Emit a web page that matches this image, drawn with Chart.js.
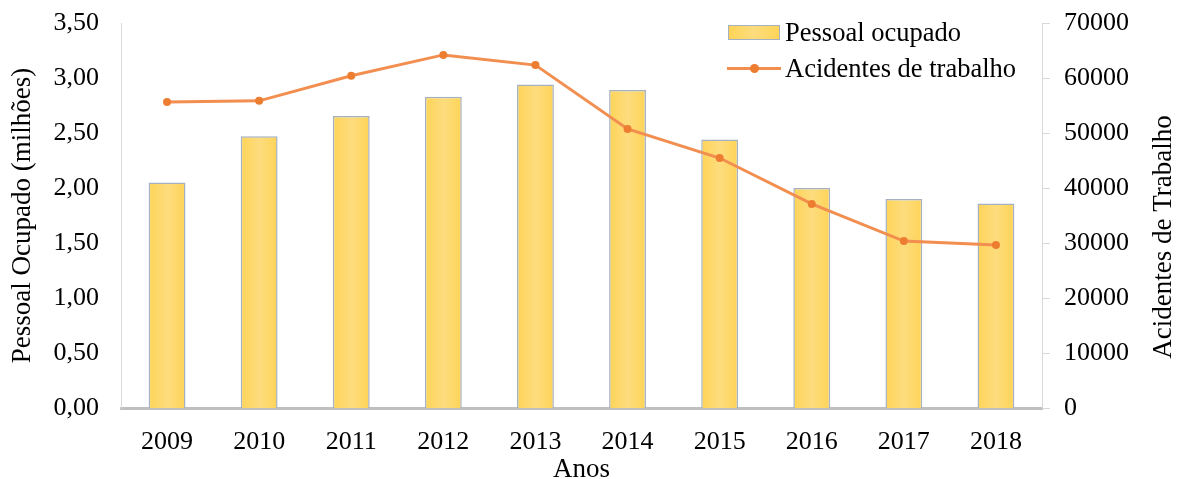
<!DOCTYPE html>
<html>
<head>
<meta charset="utf-8">
<script src="https://cdn.jsdelivr.net/npm/chart.js@4.4.1/dist/chart.umd.min.js"></script>
<style>
  html, body { margin: 0; padding: 0; background: #fff; }
  #wrap { position: relative; width: 1179px; height: 479px; }
  canvas { display: block; }
  .lg { position: absolute; font-family: "Liberation Serif", "Times New Roman", serif; font-size: 26.5px; color: #000; line-height: 30px; white-space: nowrap; }
</style>
</head>
<body>
<div id="wrap">
  <canvas id="c" width="1179" height="479"></canvas>
  <div style="position:absolute;left:728px;top:25px;width:50px;height:13px;background:linear-gradient(90deg,#FED457,#FDDC7E 50%,#FED457);border:1px solid #A5B0C0;"></div>
  <div class="lg" style="left:785px;top:17px;">Pessoal ocupado</div>
  <div style="position:absolute;left:727px;top:67px;width:54px;height:3px;background:#F28E4F;"></div>
  <div style="position:absolute;left:750px;top:64px;width:9px;height:9px;border-radius:50%;background:#ED7D31;"></div>
  <div class="lg" style="left:785px;top:53px;">Acidentes de trabalho</div>
</div>
<script>
const categories = ["2009","2010","2011","2012","2013","2014","2015","2016","2017","2018"];
const pessoalOcupado = [2.05, 2.47, 2.655, 2.83, 2.94, 2.89, 2.44, 2.00, 1.90, 1.86];
const acidentesTrabalho = [55650, 55850, 60400, 64200, 62350, 50750, 45450, 37100, 30350, 29650];
const leftTicksMax = 3.5;
const rightTicksMax = 70000;

const FONT = "'Liberation Serif', 'Times New Roman', serif";
const BAR_PCT = 0.4;

const rightTitlePlugin = {
  id: 'rightTitle',
  afterDraw(chart) {
    const ctx = chart.ctx;
    ctx.save();
    ctx.font = "27px " + FONT;
    ctx.fillStyle = '#000';
    ctx.textAlign = 'center';
    ctx.textBaseline = 'middle';
    ctx.translate(1164, 237);
    ctx.rotate(-Math.PI / 2);
    ctx.fillText('Acidentes de Trabalho', 0, 0);
    ctx.restore();
  }
};

function barFill(c) {
  const chart = c.chart;
  const xs = chart.scales && chart.scales.x;
  if (!xs || !chart.chartArea || c.dataIndex === undefined) return '#FDD870';
  const cx = xs.getPixelForValue(c.dataIndex);
  const w = (xs.width / categories.length) * BAR_PCT;
  const g = chart.ctx.createLinearGradient(cx - w / 2, 0, cx + w / 2, 0);
  g.addColorStop(0, '#FED457');
  g.addColorStop(0.5, '#FDDC7E');
  g.addColorStop(1, '#FED457');
  return g;
}

new Chart(document.getElementById('c'), {
  data: {
    labels: categories,
    datasets: [
      {
        type: 'line',
        label: 'Acidentes de trabalho',
        data: acidentesTrabalho,
        yAxisID: 'y1',
        borderColor: '#F28E4F',
        borderWidth: 3,
        pointRadius: 4,
        pointBackgroundColor: '#ED7D31',
        pointBorderColor: '#ED7D31',
        pointBorderWidth: 0,
        tension: 0,
        order: 0
      },
      {
        type: 'bar',
        label: 'Pessoal ocupado',
        data: pessoalOcupado,
        yAxisID: 'y',
        backgroundColor: barFill,
        borderColor: '#A5B0C0',
        borderWidth: 1.5,
        barPercentage: BAR_PCT,
        categoryPercentage: 1.0,
        order: 1
      }
    ]
  },
  options: {
    responsive: false,
    animation: false,
    layout: { padding: { top: 23, left: 0, right: 0, bottom: 0 } },
    plugins: {
      legend: { display: false },
      tooltip: { enabled: false }
    },
    scales: {
      x: {
        grid: { display: false, drawTicks: false },
        border: { display: true, color: '#BFBFBF', width: 3 },
        ticks: { color: '#000', font: { family: FONT, size: 26 }, padding: 19 },
        title: { display: true, text: 'Anos', color: '#000', font: { family: FONT, size: 27, lineHeight: 0.65 }, padding: 0 },
        afterFit(scale) { scale.height = 71; }
      },
      y: {
        position: 'left',
        min: 0,
        max: leftTicksMax,
        grid: { display: false, drawTicks: false },
        border: { display: true, color: '#D9D9D9', width: 1 },
        ticks: {
          stepSize: 0.5,
          color: '#000',
          font: { family: FONT, size: 26, lineHeight: 0.02 },
          padding: 22,
          callback: (v) => Number(v).toFixed(2).replace('.', ',')
        },
        title: { display: true, text: 'Pessoal Ocupado (milhões)', color: '#000', font: { family: FONT, size: 27, lineHeight: 1 }, padding: { top: 9, bottom: 0 } },
        afterFit(scale) { scale.width = 121; }
      },
      y1: {
        position: 'right',
        min: 0,
        max: rightTicksMax,
        grid: { display: true, drawOnChartArea: false, drawTicks: true, tickLength: 8, color: '#D9D9D9' },
        border: { display: true, color: '#D9D9D9', width: 1 },
        ticks: {
          stepSize: 10000,
          color: '#000',
          font: { family: FONT, size: 26, lineHeight: 0.02 },
          padding: 14,
          callback: (v) => String(v)
        },
        afterFit(scale) { scale.width = 137; }
      }
    }
  },
  plugins: [rightTitlePlugin]
});
</script>
</body>
</html>
